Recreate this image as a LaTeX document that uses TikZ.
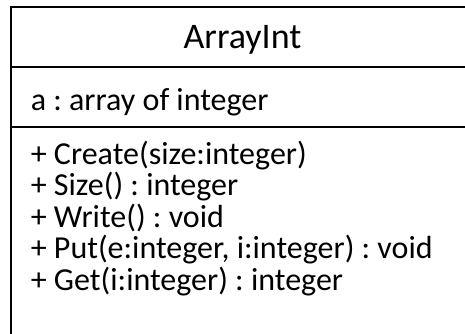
\documentclass[tikz,border=0pt]{standalone}
\usepackage{fontspec}
\setmainfont{Carlito}
\usepackage{tikz}
\frenchspacing

\begin{document}
\begin{tikzpicture}[x=1pt,y=-1pt,line width=1.6pt,
  txt/.style={inner sep=0pt,anchor=base west,font=\fontsize{32}{38}\selectfont}]
\useasboundingbox (0,0) rectangle (465,333);
\draw (11,7) rectangle (480,345);
\draw (11,67)--(480,67);
\draw (11,127)--(480,127);
\node[txt,anchor=base,font=\fontsize{36}{42}\selectfont] (title) at (242.5,48) {ArrayInt};
\node[txt] (attr) at (30,110) {a : array of integer};
\foreach \t [count=\i] in {+ Create(size:integer), + Size() : integer, + Write() : void,
  {+ Put(e:integer, i:integer) : void}, + Get(i:integer) : integer}
  \node[txt] (op\i) at (30,164+31.5*\i-31.5) {\t};

\end{tikzpicture}
\end{document}
